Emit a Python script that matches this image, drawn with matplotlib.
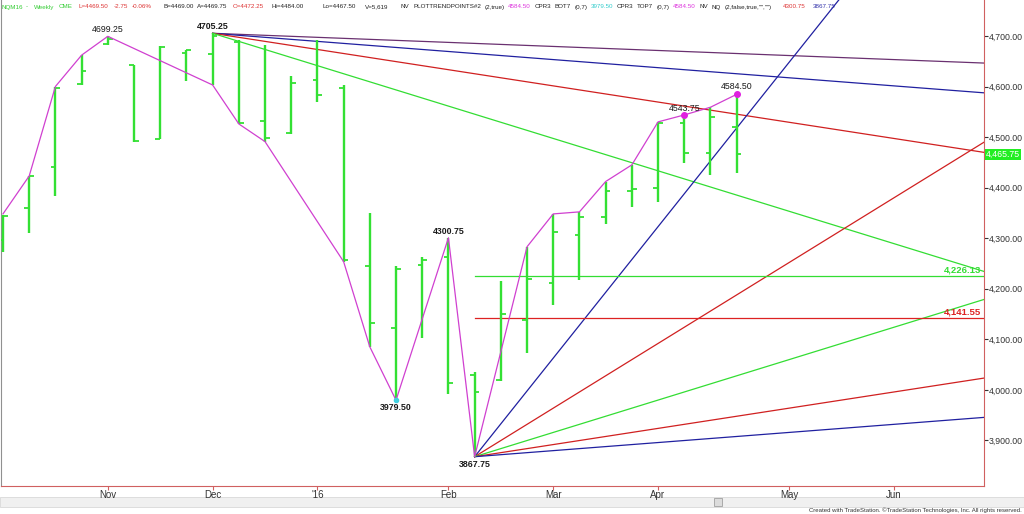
import numpy as np
import matplotlib.pyplot as plt
from matplotlib import font_manager
from matplotlib.patches import Rectangle
from matplotlib.transforms import blended_transform_factory

# weekly NQM16 bars (x = bar number, Nov label at bar 4)
opens  = [4296, 4360, 4440, 4605, 4684, 4642, 4497, 4666, 4664, 4688,
          4532, 4508, 4613, 4598, 4245, 4123, 4247, 4263, 4029, 4020,
          4138, 4212, 4306, 4341, 4394, 4400, 4527, 4469, 4519]
highs  = [4346, 4423, 4600, 4662, 4699.25, 4643, 4681, 4673, 4705.25, 4691,
          4682, 4620, 4691, 4602, 4350, 4244, 4262, 4300.75, 4036, 4215,
          4283, 4348, 4352, 4412, 4445, 4530, 4543.75, 4559, 4584.5]
lows   = [4273, 4311, 4384, 4603, 4682, 4491, 4496, 4611, 4603, 4526,
          4491, 4507, 4570, 4253, 4085, 3979.5, 4102, 3991, 3867.75, 4018,
          4072, 4168, 4217, 4328, 4362, 4372, 4448, 4425, 4428]
closes = [4344, 4422, 4598, 4631, 4694, 4492, 4679, 4672, 4700, 4528,
          4499, 4607, 4583, 4256, 4133, 4240, 4257, 4013, 3996, 4150,
          4219, 4312, 4342, 4393, 4397, 4527, 4468, 4539, 4465.75]
bar_x = np.arange(len(opens))

month_pos = [4, 8, 12, 17, 21, 25, 30, 34]
month_lbl = ['Nov', 'Dec', "'16", 'Feb', 'Mar', 'Apr', 'May', 'Jun']

# magenta swing line
swing_x = [0, 1, 2, 3, 4, 8, 9, 10, 13, 14, 15, 17, 18, 20, 21, 22, 23, 24, 25, 26, 27, 28]
swing_y = [4348, 4423, 4600, 4662, 4699.25, 4603, 4526, 4491, 4253.5, 4085, 3979.5,
           4300.75, 3867.75, 4283, 4348, 4352, 4412, 4445, 4530, 4543.75, 4559, 4584.5]

# angles off the 4705.25 top and the 3867.75 bottom (points per bar)
top_bar, top_price = 8, 4705.25
low_bar, low_price = 18, 3867.75
down_slopes = [-2, -4, -8, -16]
down_colors = ['#6a3070', '#2020a0', '#d02020', '#33dd33']
fan_slopes = [65, 32, 16, 8, 4]
fan_colors = ['#2020a0', '#d02020', '#33dd33', '#d02020', '#2020a0']

levels = [4226.13, 4141.55]
level_lbl = ['4,226.13', '4,141.55']
level_colors = ['#33dd33', '#dd2222']
last_price = 4465.75
price_ticks = np.arange(3900, 4701, 100)

pivots = [(4, 4699.25, '4699.25', False, 7), (8, 4705.25, '4705.25', True, 6.5),
          (17, 4300.75, '4300.75', True, 6), (15, 3979.5, '3979.50', True, -7),
          (18, 3867.75, '3867.75', True, -7.5), (26, 4543.75, '4543.75', False, 6),
          (28, 4584.5, '4584.50', False, 8)]

red, blk, mag = '#dd3333', '#222222', '#dd33dd'
header = [(0, 'NQM16', '#33cc33'), (20, '-', '#33cc33'), (33, 'Weekly', '#33cc33'),
          (58, 'CME', '#33cc33'), (77, 'L=4469.50', red), (113, '-2.75', red),
          (131, '-0.06%', red), (162, 'B=4469.00', blk), (196, 'A=4469.75', blk),
          (232, 'O=4472.25', red), (270, 'Hi=4484.00', blk), (321, 'Lo=4467.50', blk),
          (364, 'V=5,619', blk), (399, 'NV', blk), (412, 'PLOTTRENDPOINTS#2', blk),
          (473, '(2,true)', blk), (504, '4584.50', mag), (525, 'CPR3', blk),
          (543, 'BOT7', blk), (563, '(0,7)', blk), (580, '3979.50', '#33cccc'),
          (607, 'CPR3', blk), (625, 'TOP7', blk), (642, '(0,7)', blk),
          (660, '4584.50', mag), (688, 'NV', blk), (698, 'NQ', blk),
          (710, '(2,false,true,"","")', blk), (782, '4300.75', red), (812, '3867.75', '#3333aa')]

plt.rcParams['font.family'] = ['Liberation Sans', 'DejaVu Sans']
installed = {f.name for f in font_manager.fontManager.ttflist}
narrow = 'Liberation Sans Narrow' if 'Liberation Sans Narrow' in installed else 'Liberation Sans'
hdr_size = 5.4 if narrow != 'Liberation Sans' else 4.5
green = '#33e033'

fig = plt.figure(figsize=(10.24, 5.14), dpi=100)
ax = fig.add_axes([1 / 1024, 28 / 514, 983 / 1024, 486 / 514])
x0, x1 = -0.076, 37.44
ax.set_xlim(x0, x1)
ax.set_ylim(3809.8, 4771.1)

# trend lines
for s, c in zip(down_slopes, down_colors):
    ax.plot([top_bar, x1], [top_price, top_price + s * (x1 - top_bar)], color=c, lw=0.9, zorder=2)
for s, c in zip(fan_slopes, fan_colors):
    ax.plot([low_bar, x1], [low_price, low_price + s * (x1 - low_bar)], color=c, lw=0.9, zorder=2)
for lv, lb, c in zip(levels, level_lbl, level_colors):
    ax.plot([low_bar, x1], [lv, lv], color=c, lw=0.9, zorder=2)
    ax.text(x1 - 0.1, lv + 3, lb, color=c, fontsize=6.8, fontweight='bold',
            ha='right', va='bottom', zorder=5)

# OHLC bars
ax.vlines(bar_x, lows, highs, color=green, lw=1.7, zorder=3)
ax.hlines(opens, bar_x - 0.18, bar_x, color=green, lw=1.3, zorder=3)
ax.hlines(closes, bar_x, bar_x + 0.18, color=green, lw=1.3, zorder=3)

ax.plot(swing_x, swing_y, color='#d040d0', lw=0.9, zorder=4)
ax.plot([26, 28], [4543.75, 4584.5], 'o', color='#e020e0', ms=4, zorder=5)
ax.plot([15], [3979.5], 'o', color='#40d0e0', ms=3, zorder=5)

for bx, by, lb, bold, off in pivots:
    ax.annotate(lb, (bx, by), xytext=(0, off), textcoords='offset pixels',
                ha='center', va='center', fontsize=6.3, color='#1a1a1a',
                fontweight='bold' if bold else 'normal', zorder=6)

# axes styling
ax.spines['top'].set_visible(False)
ax.spines['right'].set_color('#d06060')
ax.spines['bottom'].set_color('#d06060')
ax.spines['left'].set_color('#909090')
ax.yaxis.tick_right()
ax.set_yticks(price_ticks)
ax.set_yticklabels([f'{v:,.2f}' for v in price_ticks])
ax.tick_params(axis='y', length=3, pad=0.5, labelsize=6.3, colors='#333333')
ax.set_xticks(month_pos)
ax.set_xticklabels(month_lbl, family=narrow)
ax.tick_params(axis='x', length=3, pad=0, labelsize=7, labelcolor='#333333', color='#d06060')

tr = blended_transform_factory(ax.transAxes, ax.transData)
ax.text(1.002, last_price, f'{last_price:,.2f}', transform=tr, ha='left', va='center',
        fontsize=6.3, color='white',
        bbox=dict(boxstyle='square,pad=0.15', fc='#22ee22', ec='none'))

# header line, tokens pushed right if they would run into each other
renderer = fig.canvas.get_renderer()
right_edge = -10
for px, txt, c in header:
    xpos = max(px, right_edge + 2.5)
    t = fig.text(xpos / 1024 + 0.001, 1 - 7 / 514, txt, color=c, fontsize=hdr_size,
                 family=narrow, va='center')
    right_edge = t.get_window_extent(renderer).x1

# scroll bar and credit
fig.patches.append(Rectangle((0, 7 / 514), 1, 10 / 514, transform=fig.transFigure,
                             fc='#f0f0f0', ec='#d8d8d8', lw=0.6, zorder=-1))
fig.patches.append(Rectangle((714 / 1024, 8 / 514), 8 / 1024, 8 / 514, transform=fig.transFigure,
                             fc='#dcdcdc', ec='#a0a0a0', lw=0.6, zorder=-1))
fig.text(0.998, 0.002, 'Created with TradeStation. \u00a9TradeStation Technologies, Inc. All rights reserved.',
         ha='right', va='bottom', fontsize=4.3, family=narrow, color='#333333')

fig.savefig('out.png', dpi=100)
